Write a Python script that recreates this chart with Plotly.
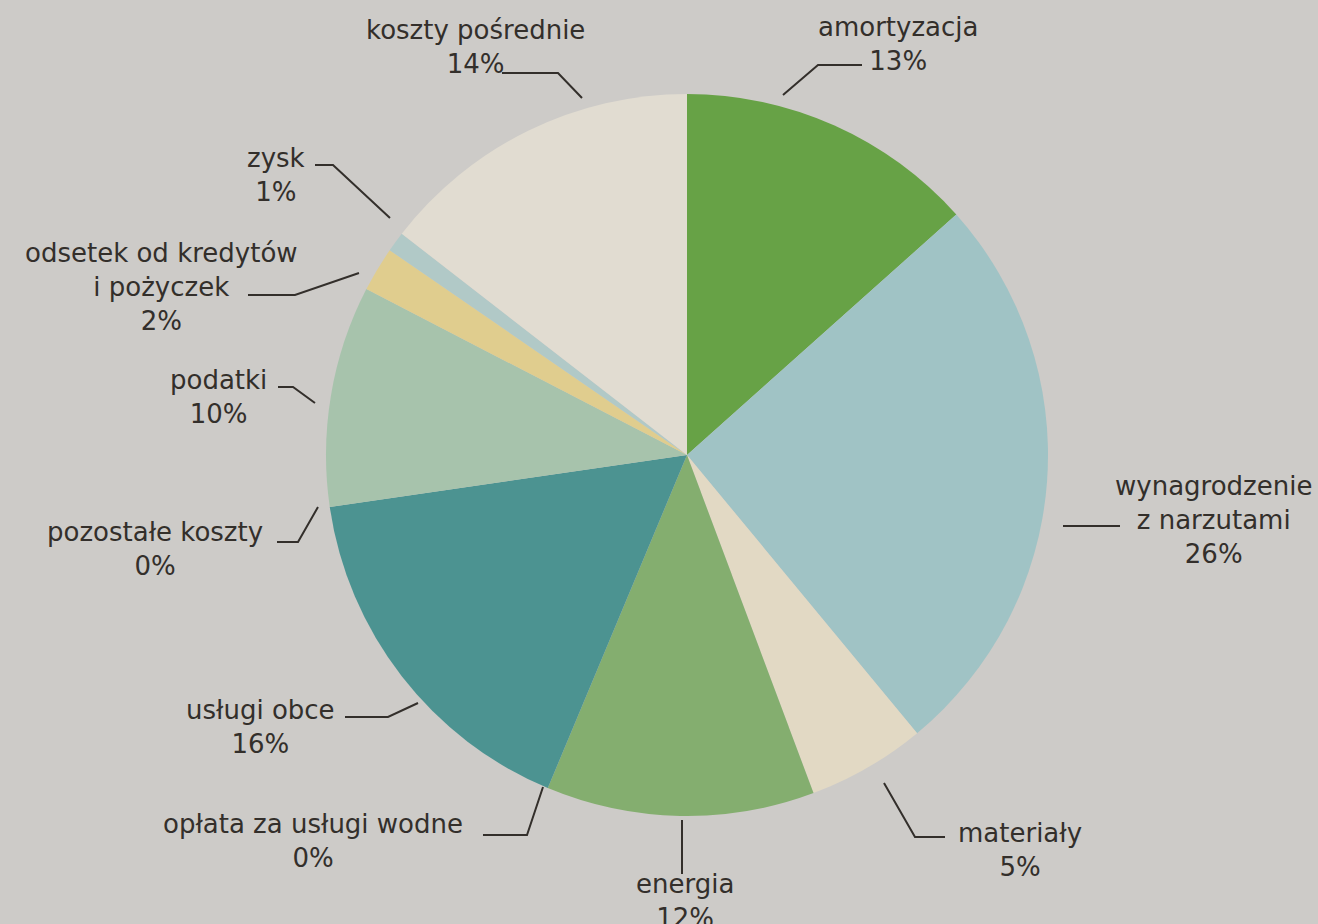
import plotly.graph_objects as go

# ---------------- data ----------------
categories = [
    "amortyzacja", "wynagrodzenie z narzutami", "materiały", "energia",
    "opłata za usługi wodne", "usługi obce", "pozostałe koszty", "podatki",
    "odsetek od kredytów i pożyczek", "zysk", "koszty pośrednie",
]
values = [13.4, 25.6, 5.3, 12.0, 0.0, 16.4, 0.0, 9.9, 2.0, 0.9, 14.5]
pct_labels = ["13%", "26%", "5%", "12%", "0%", "16%", "0%", "10%", "2%", "1%", "14%"]
label_text = [
    "amortyzacja", "wynagrodzenie<br>z narzutami", "materiały", "energia",
    "opłata za usługi wodne", "usługi obce", "pozostałe koszty", "podatki",
    "odsetek od kredytów<br>i pożyczek", "zysk", "koszty pośrednie",
]

# ---------------- style ----------------
W, H = 1318, 924
colors = ["#67a246", "#a0c3c5", "#e2d9c4", "#84ae6f", "#7fb0c8", "#4c9391",
          "#a9c2ab", "#a7c3ac", "#e0cd8e", "#b1c9c7", "#e1dcd1"]
BG = "#cdcbc8"
TXT = "#332f2b"
CX, CY, R = 687, 455, 361

# label block centres (pixels) and leader polylines (pixels)
label_pos = [(898, 44), (1213, 520), (1020, 850), (685, 901), (313, 841),
             (260, 727), (155, 549), (218, 397), (161, 287), (276, 175), (475, 47)]
leaders = [
    [(862, 65), (818, 65), (783, 95)],
    [(1063, 526), (1120, 526)],
    [(884, 783), (915, 837), (945, 837)],
    [(682, 820), (682, 874)],
    [(483, 835), (527, 835), (543, 787)],
    [(345, 717), (388, 717), (418, 703)],
    [(277, 542), (298, 542), (318, 507)],
    [(278, 387), (293, 387), (315, 403)],
    [(248, 295), (295, 295), (359, 273)],
    [(315, 165), (333, 165), (390, 218)],
    [(502, 73), (558, 73), (582, 98)],
]


def px(x):
    return x / W


def py(y):
    return 1 - y / H


fig = go.Figure()
fig.add_trace(go.Pie(
    labels=categories,
    values=values,
    sort=False,
    direction="clockwise",
    rotation=0,
    textinfo="none",
    hoverinfo="label+percent",
    marker=dict(colors=colors, line=dict(width=0)),
    domain=dict(x=[px(CX - R), px(CX + R)], y=[py(CY + R), py(CY - R)]),
    showlegend=False,
))

shapes = []
for pts in leaders:
    path = "M " + " L ".join(f"{px(x):.5f},{py(y):.5f}" for x, y in pts)
    shapes.append(dict(type="path", xref="paper", yref="paper", path=path,
                       line=dict(color=TXT, width=2), layer="above"))

annotations = []
for txt, pct, (x, y) in zip(label_text, pct_labels, label_pos):
    annotations.append(dict(
        x=px(x), y=py(y), xref="paper", yref="paper",
        text=f"{txt}<br>{pct}", showarrow=False, align="center",
        xanchor="center", yanchor="middle",
        font=dict(family="DejaVu Sans", size=26, color=TXT),
    ))

fig.update_layout(
    width=W, height=H, autosize=False,
    margin=dict(l=0, r=0, t=0, b=0),
    paper_bgcolor=BG, plot_bgcolor=BG,
    shapes=shapes, annotations=annotations,
)

fig.write_html("out.html", config={"displayModeBar": False},
               post_script="document.body.style.margin='0';")
